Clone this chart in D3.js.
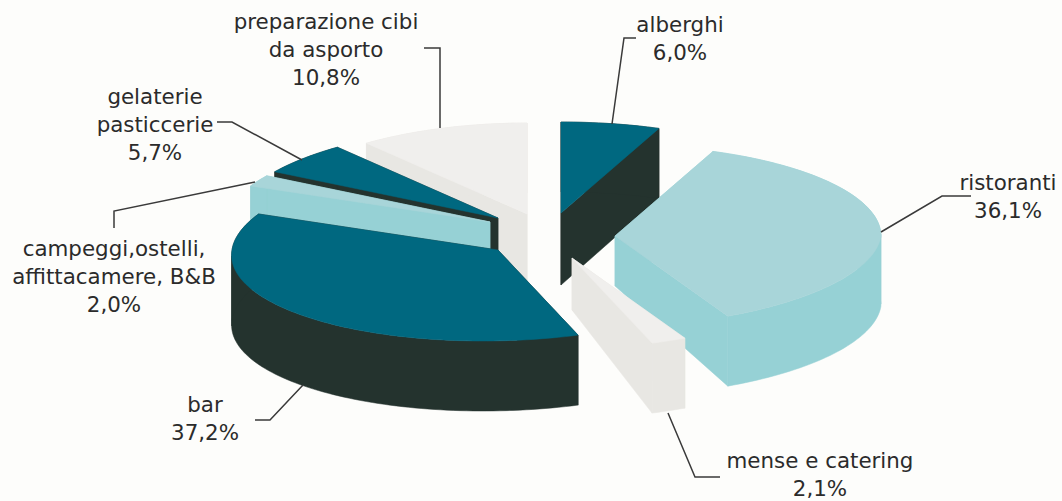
<!DOCTYPE html>
<html>
<head>
<meta charset="utf-8">
<script src="https://cdn.jsdelivr.net/npm/d3@7"></script>
<style>
html,body{margin:0;padding:0;background:#fdfdfb;}
svg{display:block;}
</style>
</head>
<body>
<svg id="chart" width="1062" height="501"></svg>
<script>
// Data, in drawing sequence clockwise from twelve o'clock
const categories = ["alberghi","ristoranti","mense e catering","bar","campeggi,ostelli, affittacamere, B&B","gelaterie pasticcerie","preparazione cibi da asporto"];
const values = [6.0,36.1,2.1,37.2,2.0,5.7,10.8];
const valueLabels = ["6,0%","36,1%","2,1%","37,2%","2,0%","5,7%","10,8%"];
const labelLines = [["alberghi"],["ristoranti"],["mense e catering"],["bar"],["campeggi,ostelli,","affittacamere, B&B"],["gelaterie","pasticcerie"],["preparazione cibi","da asporto"]];

// Layout (not data)
const W = 1062, H = 501;
const centre = [540,245];
const explode = [[21,-32],[75,-9],[32,13],[-42,5],[-50,-23],[-42,-27],[-13,-31]];
const apexDepth = [72,50,52,70,70,70,70];
const rimDepth = 70;
const rx = d3.scaleLinear().domain([0,1]).range([0,266]);
const ry = d3.scaleLinear().domain([0,1]).range([0,91]);
const shear = 0.165;
const rearLeftSqueeze = 0.04;
const topColors  = ["#006880","#a8d5d9","#f0efed","#006880","#a8d5d9","#006880","#f0efed"];
const wallColors = ["#24332e","#96d1d5","#e8e7e3","#24332e","#96d1d5","#24332e","#e8e7e3"];
const paintOrder = [6,5,4,3,0,1,2];
const labelPos = [[680,32],[1008,190],[820,468],[205,412],[114,256],[155,104],[326,29]];
const lineHeight = 27.8;
const leaders = [
  [[636,38],[624,38],[612,124]],
  [[971,196],[942,196],[881,232]],
  [[720,477],[695,477],[668,413]],
  [[255,420],[270,420],[303,385]],
  [[114,228],[114,211],[255,182]],
  [[217,122],[232,122],[302,160]],
  [[424,48],[440,48],[440,128]]
];

const svg = d3.select("#chart");
svg.append("rect").attr("width",W).attr("height",H).attr("fill","#fdfdfb");

const arcs = d3.pie().sort(null).value(d=>d).startAngle(0).endAngle(2*Math.PI)(values);

// angle measured clockwise from the top; projected onto the tilted plane
function rim(a,i){
  const ax = centre[0]+explode[i][0], ay = centre[1]+explode[i][1];
  const y = -ry(1)*Math.cos(a);
  let x = rx(1)*Math.sin(a);
  if (x<0 && y<0) x *= 1 + rearLeftSqueeze*y/(0.8*ry(1));
  x -= shear*Math.max(0,y);
  return [ax+x, ay+y];
}
// split a rim polyline wherever it turns back in x, so each wall strip is a simple polygon
function monotonicRuns(pts){
  const runs = []; let run = [pts[0]], dir = 0;
  d3.pairs(pts).forEach(([p,q])=>{
    const s = Math.sign(q[0]-p[0]) || dir;
    if (dir && s !== dir){ runs.push(run); run = [p]; }
    run.push(q); dir = s;
  });
  runs.push(run);
  return runs;
}
const line = d3.line();
const g = svg.append("g");

paintOrder.forEach(i=>{
  const d = arcs[i];
  const apex = [centre[0]+explode[i][0], centre[1]+explode[i][1]];
  const n = Math.max(4, Math.ceil((d.endAngle-d.startAngle)*40));
  const angles = d3.range(n+1).map(k=>d.startAngle+(d.endAngle-d.startAngle)*k/n);
  const arcPts = angles.map(a=>rim(a,i));
  const down = p=>[p[0],p[1]+rimDepth];
  const apexLow = [apex[0],apex[1]+apexDepth[i]];
  const sl = g.append("g").attr("class","slice").attr("data-name",categories[i]);
  // radial walls
  [arcPts[0],arcPts[n]].forEach(p=>{
    sl.append("path").attr("d",line([apex,p,down(p),apexLow])+"Z")
      .attr("fill",wallColors[i]).attr("stroke",wallColors[i]).attr("stroke-width",0.5);
  });
  // outer rim wall
  monotonicRuns(arcPts).forEach(run=>{
    sl.append("path").attr("d",line(run.concat(run.map(down).reverse()))+"Z")
      .attr("fill",wallColors[i]).attr("stroke",wallColors[i]).attr("stroke-width",0.5);
  });
  // top face
  sl.append("path").attr("d",line([apex].concat(arcPts))+"Z")
    .attr("fill",topColors[i]).attr("stroke",topColors[i]).attr("stroke-width",0.5);
});

// leader lines
svg.append("g").selectAll("path").data(leaders).join("path")
  .attr("d",d=>line(d)).attr("fill","none").attr("stroke","#3a3a3a").attr("stroke-width",1.5);

// labels
const lab = svg.append("g").attr("font-family","'DejaVu Sans',Verdana,sans-serif")
  .attr("font-size",21.4).attr("fill","#2b2b2b").attr("text-anchor","middle");
labelLines.forEach((lines,i)=>{
  lines.concat([valueLabels[i]]).forEach((t,k)=>{
    lab.append("text").attr("x",labelPos[i][0]).attr("y",labelPos[i][1]+k*lineHeight).text(t);
  });
});
</script>
</body>
</html>
